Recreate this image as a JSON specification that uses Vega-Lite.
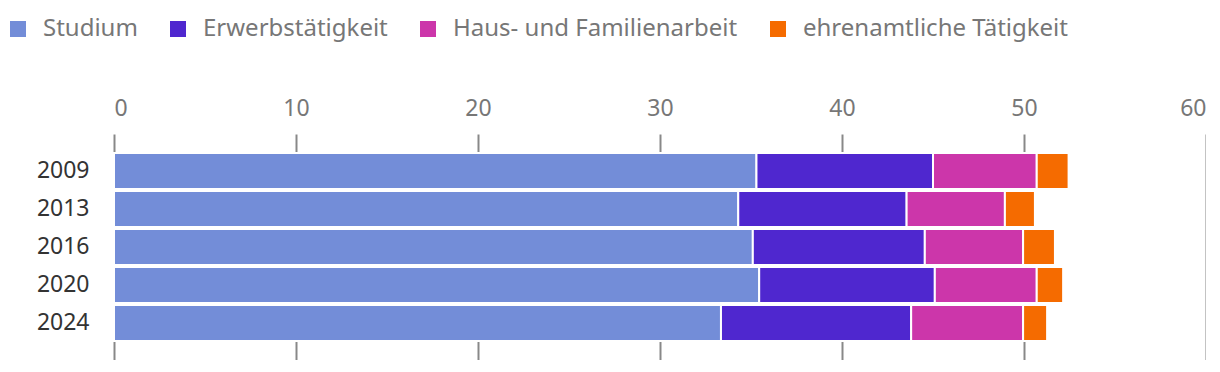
{
  "$schema": "https://vega.github.io/schema/vega-lite/v6.json",
  "autosize": {"type": "none"},
  "padding": {"left": 114, "top": 134, "right": 0, "bottom": 0},
  "width": 1092,
  "height": 226,
  "background": "white",
  "config": {
    "font": "Noto Sans",
    "view": {"stroke": null}
  },
  "data": {
    "values": [
      {"jahr": "2009", "kategorie": "Studium", "wert": 35.3},
      {"jahr": "2009", "kategorie": "Erwerbstätigkeit", "wert": 9.7},
      {"jahr": "2009", "kategorie": "Haus- und Familienarbeit", "wert": 5.7},
      {"jahr": "2009", "kategorie": "ehrenamtliche Tätigkeit", "wert": 1.75},
      {"jahr": "2013", "kategorie": "Studium", "wert": 34.3},
      {"jahr": "2013", "kategorie": "Erwerbstätigkeit", "wert": 9.25},
      {"jahr": "2013", "kategorie": "Haus- und Familienarbeit", "wert": 5.4},
      {"jahr": "2013", "kategorie": "ehrenamtliche Tätigkeit", "wert": 1.65},
      {"jahr": "2016", "kategorie": "Studium", "wert": 35.1},
      {"jahr": "2016", "kategorie": "Erwerbstätigkeit", "wert": 9.45},
      {"jahr": "2016", "kategorie": "Haus- und Familienarbeit", "wert": 5.4},
      {"jahr": "2016", "kategorie": "ehrenamtliche Tätigkeit", "wert": 1.75},
      {"jahr": "2020", "kategorie": "Studium", "wert": 35.45},
      {"jahr": "2020", "kategorie": "Erwerbstätigkeit", "wert": 9.65},
      {"jahr": "2020", "kategorie": "Haus- und Familienarbeit", "wert": 5.6},
      {"jahr": "2020", "kategorie": "ehrenamtliche Tätigkeit", "wert": 1.45},
      {"jahr": "2024", "kategorie": "Studium", "wert": 33.35},
      {"jahr": "2024", "kategorie": "Erwerbstätigkeit", "wert": 10.45},
      {"jahr": "2024", "kategorie": "Haus- und Familienarbeit", "wert": 6.15},
      {"jahr": "2024", "kategorie": "ehrenamtliche Tätigkeit", "wert": 1.32}
    ]
  },
  "transform": [
    {"calculate": "indexof(['Studium', 'Erwerbstätigkeit', 'Haus- und Familienarbeit', 'ehrenamtliche Tätigkeit'], datum.kategorie)", "as": "reihenfolge"}
  ],
  "mark": {"type": "bar", "stroke": "white", "strokeWidth": 2},
  "encoding": {
    "y": {
      "field": "jahr",
      "type": "nominal",
      "title": null,
      "scale": {"paddingInner": 0.0526, "paddingOuter": 0.5},
      "axis": {
        "domain": false,
        "ticks": false,
        "labelPadding": 25,
        "labelFontSize": 23,
        "labelColor": "#333333",
        "labelFont": "Noto Sans"
      }
    },
    "x": {
      "field": "wert",
      "type": "quantitative",
      "stack": "zero",
      "title": null,
      "scale": {"domain": [0, 60], "nice": false},
      "axis": {
        "orient": "top",
        "values": [0, 10, 20, 30, 40, 50, 60],
        "domain": false,
        "ticks": false,
        "grid": true,
        "gridColor": "#888888",
        "gridWidth": 2,
        "labelPadding": 14,
        "labelFontSize": 23,
        "labelColor": "#777777",
        "labelFont": "Noto Sans"
      }
    },
    "color": {
      "field": "kategorie",
      "type": "nominal",
      "sort": ["Studium", "Erwerbstätigkeit", "Haus- und Familienarbeit", "ehrenamtliche Tätigkeit"],
      "scale": {
        "domain": ["Studium", "Erwerbstätigkeit", "Haus- und Familienarbeit", "ehrenamtliche Tätigkeit"],
        "range": ["#738dd8", "#4f27cf", "#cc36aa", "#f56b00"]
      },
      "legend": {
        "title": null,
        "orient": "none",
        "legendX": -108,
        "legendY": -117,
        "direction": "horizontal",
        "columns": 4,
        "symbolType": "square",
        "symbolSize": 256,
        "symbolStrokeWidth": 0,
        "labelFontSize": 24,
        "labelColor": "#777777",
        "labelFont": "Noto Sans",
        "labelOffset": 13,
        "columnPadding": 28,
        "labelLimit": 400,
        "padding": 0
      }
    },
    "order": {"field": "reihenfolge", "type": "quantitative"}
  }
}
